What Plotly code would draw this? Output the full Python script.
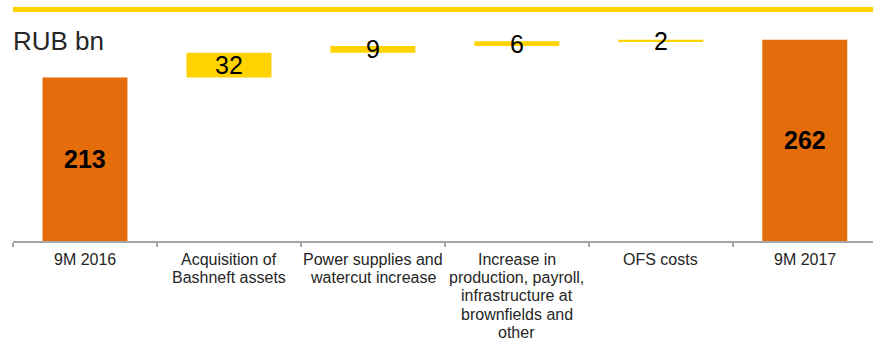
import plotly.graph_objects as go

# Cost bridge, RUB bn
categories = [
    "9M 2016",
    "Acquisition of<br>Bashneft assets",
    "Power supplies and<br>watercut increase",
    "Increase in<br>production, payroll,<br>infrastructure at<br>brownfields and<br>other",
    "OFS costs",
    "9M 2017",
]
values = [213, 32, 9, 6, 2, 262]
measures = ["absolute", "relative", "relative", "relative", "relative", "total"]

ORANGE = "#E46C0A"
YELLOW = "#FFD200"
FONT = "Arial, Liberation Sans, sans-serif"
LABEL_SIZE = 16
LINE_STEP = 18.4  # tight line spacing for category captions

fig = go.Figure()
fig.add_trace(go.Waterfall(
    x=categories,
    y=values,
    measure=measures,
    width=0.59,
    increasing=dict(marker=dict(color=YELLOW, line=dict(width=0))),
    totals=dict(marker=dict(color=ORANGE, line=dict(width=0))),
    connector=dict(visible=False),
    textinfo="none",
    hoverinfo="skip",
))

# value labels centred on each bar segment
running = 0
for cat, v, m in zip(categories, values, measures):
    if m == "relative":
        base = running
        running += v
        bold = False
    else:
        base = 0
        running = v
        bold = True
    fig.add_annotation(
        x=cat, y=base + v / 2, xref="x", yref="y",
        text=f"<b>{v}</b>" if bold else str(v),
        showarrow=False, yanchor="middle",
        font=dict(family=FONT, size=25, color="#000000"),
    )

# category captions under the axis, one line at a time
for cat in categories:
    for j, line in enumerate(cat.split("<br>")):
        fig.add_annotation(
            x=cat, y=0, xref="x", yref="paper",
            text=line, showarrow=False, yanchor="middle",
            yshift=-(18 + LINE_STEP * j),
            font=dict(family=FONT, size=LABEL_SIZE, color="#262626"),
        )

# unit caption
fig.add_annotation(
    x=0, y=1 - 24 / 241, xref="paper", yref="paper",
    text="RUB bn", showarrow=False, xanchor="left", yanchor="top",
    xshift=-2,
    font=dict(family=FONT, size=26, color="#262626"),
)

# gold rule across the top
fig.add_shape(
    type="rect", xref="paper", yref="paper",
    x0=0, x1=1, y0=1 - 12 / 241, y1=1 - 7 / 241,
    fillcolor=YELLOW, line=dict(width=0),
)

fig.update_layout(
    width=873, height=338,
    margin=dict(l=13, r=0, t=0, b=97, autoexpand=False),
    paper_bgcolor="white", plot_bgcolor="white",
    showlegend=False,
    xaxis=dict(
        type="category",
        range=[-0.5, 5.474],
        tickson="boundaries",
        showticklabels=False,
        automargin=False,
        showline=True, linecolor="#A6A6A6", linewidth=2,
        ticks="outside", ticklen=4, tickcolor="#A6A6A6", tickwidth=2,
        showgrid=False, zeroline=False,
        fixedrange=True,
    ),
    yaxis=dict(
        range=[0, 241 / 0.768],
        visible=False, showgrid=False, zeroline=False,
        fixedrange=True,
    ),
)

fig.write_html("out.html")
